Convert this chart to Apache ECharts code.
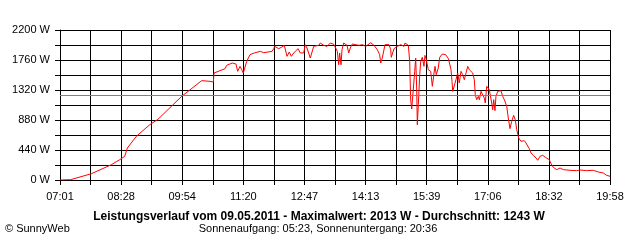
<!DOCTYPE html>
<html>
<head>
<meta charset="utf-8">
<script src="https://cdn.jsdelivr.net/npm/echarts@6/dist/echarts.min.js"></script>
<style>html,body{margin:0;padding:0;background:#fff}#c{width:640px;height:240px}</style>
</head>
<body>
<div id="c"></div>
<script>
// x-axis tick labels (every second gridline)
const tickLabels = ['07:01','08:28','09:54','11:20','12:47','14:13','15:39','17:06','18:32','19:58'];
// minutes after 07:01
const minutes = [0,1.0,15.1,44.2,53.7,72.5,84.4,91.4,95.1,107.9,126.8,138.4,171.9,200.2,211.9,214.3,216.6,217.6,226.0,233.1,235.5,243.4,248.6,251.0,254.3,256.7,258.9,263.8,268.4,270.8,274.5,283.0,287.8,299.5,301.9,303.3,309.0,312.6,316.9,320.7,323.9,326.8,330.2,336.2,339.5,344.3,346.5,348.9,353.6,358.4,365.5,367.7,372.5,377.2,381.9,386.7,388.9,391.8,393.7,395.1,397.0,398.4,400.8,405.5,407.9,410.1,412.9,422.4,427.1,431.9,438.9,443.6,448.3,451.6,453.1,455.3,459.1,464.8,467.2,468.0,471.9,476.5,481.3,486.0,487.4,492.1,494.0,495.4,496.9,499.1,501.1,502.5,503.9,504.8,506.2,508.2,509.6,511.8,514.2,515.6,517.5,520.3,523.7,526.0,528.4,529.8,531.6,534.4,536.4,540.1,544.9,548.8,552.4,553.8,554.8,557.0,559.4,561.8,564.1,566.5,568.9,571.2,573.6,576.0,578.2,580.6,583.0,585.3,586.7,588.7,591.0,592.4,594.8,597.2,599.4,600.8,602.8,604.6,606.5,607.9,609.9,611.3,612.7,614.5,615.9,618.4,620.6,623.0,625.4,627.7,631.1,633.3,635.7,638.1,640.9,643.2,645.2,648.0,651.3,655.9,658.3,660.7,663.0,665.4,668.6,672.5,674.9,678.1,681.9,685.6,687.6,691.3,693.2,696.9,701.7,706.4,711.0,720.5,730.0,734.6,744.1,753.4,760.5,767.5,772.3,777];
// power in W
const watts = [0,5,5,92,136,224,298,347,469,641,811,890,1227,1457,1447,1471,1437,1569,1603,1632,1682,1716,1701,1594,1667,1618,1569,1741,1838,1814,1863,1887,1867,1887,1926,1960,1926,1946,1975,1814,1877,1814,1863,1926,1863,1863,1985,1936,1789,1960,1975,2009,1975,1960,2009,1990,2009,1887,1691,1863,1691,1911,2009,1975,1863,1936,1995,1975,1985,1960,2013,1975,1911,1838,1716,1789,1985,1985,1911,1799,1926,1960,1985,1960,2009,1975,1741,1178,1041,1041,1594,1789,1349,811,1105,1545,1741,1799,1667,1828,1765,1618,1594,1374,1569,1667,1545,1642,1799,1848,1838,1778,1618,1447,1300,1300,1471,1569,1423,1594,1545,1471,1471,1667,1618,1642,1569,1471,1251,1178,1227,1178,1300,1276,1202,1129,1374,1398,1325,1349,1129,1031,1178,1017,1227,1300,1310,1310,1227,1178,1080,909,753,860,948,885,738,616,567,577,543,518,459,396,362,323,289,347,362,333,323,298,249,186,152,176,152,142,137,147,137,142,117,103,68,55];
const average = 1243;

const font = "'Liberation Sans', Arial, sans-serif";
const chart = echarts.init(document.getElementById('c'), null, {renderer: 'canvas'});
const STEP = 2590; // seconds per gridline
chart.setOption({
  animation: false,
  backgroundColor: '#fff',
  grid: {left: 60, right: 30, top: 30, bottom: 60, containLabel: false},
  xAxis: {
    type: 'value', min: 0, max: 777 * 60, interval: STEP,
    axisLine: {show: true, lineStyle: {color: '#000', width: 1}},
    axisTick: {show: true, length: 5, lineStyle: {color: '#000'}},
    splitLine: {show: true, lineStyle: {color: '#000', width: 1}},
    axisLabel: {
      margin: 11, color: '#000', fontSize: 11, fontFamily: font,
      formatter: v => { const i = Math.round(v / STEP); return i % 2 === 0 ? tickLabels[i / 2] : ''; }
    }
  },
  yAxis: {
    type: 'value', min: 0, max: 2200, interval: 220,
    axisLine: {show: true, lineStyle: {color: '#000', width: 1}},
    axisTick: {show: true, length: 5, lineStyle: {color: '#000'}},
    splitLine: {show: true, lineStyle: {color: '#000', width: 1}},
    axisLabel: {
      margin: 10, color: '#000', fontSize: 11, fontFamily: font,
      formatter: v => (v % 440 === 0 ? v + ' W' : '')
    }
  },
  series: [{
    type: 'line',
    data: minutes.map((m, i) => [m * 60, watts[i]]),
    symbol: 'none',
    lineStyle: {color: '#ff0000', width: 1},
    markLine: {
      silent: true, symbol: 'none', label: {show: false},
      lineStyle: {color: '#808080', type: 'solid', width: 1},
      data: [{yAxis: average}]
    }
  }],
  graphic: [
    {type: 'text', x: 319, y: 217, style: {text: 'Leistungsverlauf vom 09.05.2011 - Maximalwert: 2013 W - Durchschnitt: 1243 W', font: 'bold 12px ' + font, fill: '#000', align: 'center', verticalAlign: 'middle', textAlign: 'center', textVerticalAlign: 'middle'}},
    {type: 'text', x: 318, y: 229, style: {text: 'Sonnenaufgang: 05:23, Sonnenuntergang: 20:36', font: '11px ' + font, fill: '#000', align: 'center', verticalAlign: 'middle', textAlign: 'center', textVerticalAlign: 'middle'}},
    {type: 'text', x: 5, y: 229, style: {text: '© SunnyWeb', font: '11px ' + font, fill: '#000', align: 'left', verticalAlign: 'middle', textAlign: 'left', textVerticalAlign: 'middle'}}
  ]
});
</script>
</body>
</html>
